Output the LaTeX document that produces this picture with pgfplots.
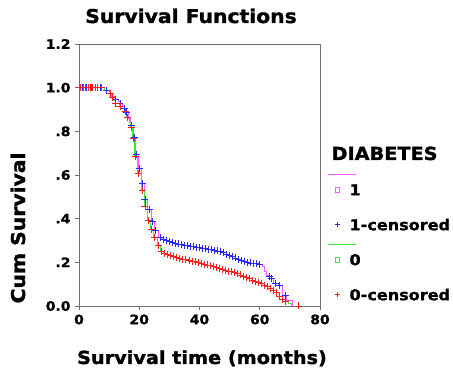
\documentclass[border=0pt]{standalone}
\usepackage{fontspec}
\setmainfont{DejaVu Sans}[FakeStretch=1.07, BoldFeatures={FakeBold=1.4}]
\usepackage{pgfplots}
\pgfplotsset{compat=1.18}

\definecolor{lmag}{RGB}{255,90,255}
\definecolor{lgreen}{RGB}{60,235,60}
\definecolor{cblue}{RGB}{40,40,255}
\definecolor{cred}{RGB}{255,30,30}
\definecolor{frame}{RGB}{110,110,110}

\begin{document}
\begin{tikzpicture}
\path[use as bounding box] (0pt,0pt) rectangle (453pt,372pt);

\begin{axis}[
  at={(79pt,66pt)}, anchor=south west,
  scale only axis, width=241pt, height=262pt,
  xmin=0, xmax=80, ymin=0, ymax=1.2,
  xtick={0,20,40,60,80},
  ytick={0,0.2,0.4,0.6,0.8,1.0,1.2},
  yticklabels={0.0,.2,.4,.6,.8,1.0,1.2},
  tick align=outside, xtick pos=bottom, ytick pos=left,
  major tick length=4pt,
  tick style={frame, line width=0.8pt},
  axis line style={frame, line width=0.8pt},
  /pgf/number format/assume math mode=true,
  ticklabel style={font=\fontsize{13}{13}\selectfont\bfseries},
  xticklabel style={yshift=-1pt},
  yticklabel style={xshift=-1pt},
  legend style={at={(1.033,0.4656)}, anchor=north west, draw=none, fill=none,
    inner sep=0pt, row sep=24pt, column sep=4pt,
    font=\fontsize{15}{15}\selectfont\bfseries,
    nodes={inner sep=0pt, text height=11pt, text depth=0pt}},
  legend cell align=left,
]

% group 1: survival step curve
\addplot[forget plot, const plot, lmag, line width=0.9pt] coordinates {
(0,1)(1,1)(2.5,1)(4,1)(5.5,1)(7,1)(8.5,0.985)(9.2,0.985)(10,0.974)(11,0.96)
(12,0.948)(13,0.938)(13.6,0.928)(14.5,0.915)(15,0.905)(15.8,0.887)(16.5,0.86)
(17.2,0.825)(17.5,0.825)(18,0.773)(18.4,0.773)(18.8,0.696)(19.1,0.696)
(19.8,0.63)(20.2,0.63)(20.6,0.562)(21,0.562)(21.6,0.489)(21.9,0.489)
(22.8,0.443)(23.3,0.443)(24,0.386)(24.4,0.386)(25,0.348)(25.5,0.348)
(26.3,0.315)(26.9,0.315)(27.5,0.305)(28,0.305)(29,0.301)(30,0.296)(31,0.29)
(32,0.286)(33,0.284)(34,0.281)(35,0.278)(36,0.276)(37,0.273)(38,0.271)
(39,0.269)(40,0.267)(41,0.265)(42,0.263)(43,0.261)(44,0.259)(45,0.255)
(46,0.252)(47,0.248)(48,0.244)(49,0.238)(50,0.233)(51,0.227)(52,0.22)
(53,0.214)(54,0.208)(55,0.202)(56,0.2)(57,0.197)(58,0.196)(59,0.194)
(60,0.192)(61,0.18)(61.7,0.16)(62.3,0.142)(63.2,0.134)(64,0.125)(64.6,0.104)
(65.1,0.104)(66.2,0.095)(66.7,0.095)(67.6,0.05)(68.4,0.05)(69,0.027)(71,0)
};

% group 0: survival step curve
\addplot[forget plot, const plot, lgreen, line width=0.9pt] coordinates {
(0,1)(0.5,1)(1.5,1)(2.2,1)(3,1)(3.7,1)(4.5,1)(5.3,1)(6,1)(7.5,1)(8.3,0.985)
(10,0.974)(10.3,0.974)(10.8,0.955)(11,0.955)(11.6,0.94)(12,0.928)(13.3,0.913)
(13.6,0.913)(15,0.893)(15.3,0.893)(15.8,0.862)(16,0.862)(16.8,0.84)
(17.1,0.817)(17.3,0.817)(17.8,0.768)(18,0.768)(18.4,0.684)(18.6,0.684)
(19.4,0.605)(19.7,0.605)(20.6,0.528)(21,0.528)(21.6,0.458)(21.9,0.458)
(22.7,0.391)(23,0.391)(23.7,0.35)(24,0.35)(24.8,0.315)(25.2,0.315)
(26,0.279)(26.3,0.279)(27,0.25)(27.4,0.25)(28.2,0.242)(28.5,0.242)
(29.5,0.236)(30.5,0.231)(31.5,0.226)(32.5,0.222)(33.5,0.218)(34.5,0.214)
(35.5,0.211)(36.5,0.208)(37.5,0.205)(38.5,0.202)(39.5,0.199)(40.5,0.196)
(41.5,0.192)(42.5,0.188)(43.5,0.184)(44.5,0.18)(45.5,0.176)(46.5,0.172)
(47.5,0.167)(48.5,0.164)(49.5,0.16)(50.5,0.156)(51.5,0.152)(52.5,0.147)
(53.5,0.142)(54.5,0.137)(55.5,0.131)(56.5,0.125)(57.5,0.119)(58.5,0.113)
(59.5,0.108)(60.5,0.102)(61.5,0.095)(62.5,0.088)(63.5,0.08)(64.5,0.073)
(65.5,0.062)(66.7,0.043)(67.5,0.03)(68.4,0.02)(69.5,0.01)(70.6,0)
};

% group 1: censored cases
\addplot[forget plot, only marks, mark=+, mark size=3.5pt, cblue, line width=0.9pt] coordinates {
(1,1)(2.5,1)(4,1)(5.5,1)(7,1)(9.2,0.985)(12,0.948)(13.6,0.928)(15,0.905)
(15.8,0.887)(17.5,0.825)(18.4,0.773)(19.1,0.696)(20.2,0.63)(21,0.562)
(21.9,0.489)(23.3,0.443)(24.4,0.386)(25.5,0.348)(26.9,0.315)(28,0.305)
(29,0.301)(30,0.296)(31,0.29)(32,0.286)(33,0.284)(34,0.281)(35,0.278)
(36,0.276)(37,0.273)(38,0.271)(39,0.269)(40,0.267)(41,0.265)(42,0.263)
(43,0.261)(44,0.259)(45,0.255)(46,0.252)(47,0.248)(48,0.244)(49,0.238)
(50,0.233)(51,0.227)(52,0.22)(53,0.214)(54,0.208)(55,0.202)(56,0.2)
(57,0.197)(58,0.196)(59,0.194)(60,0.192)(63.2,0.134)(64,0.125)(65.1,0.104)
(66.7,0.095)(68.4,0.05)
};

% group 0: censored cases
\addplot[forget plot, only marks, mark=+, mark size=3.5pt, cred, line width=0.9pt] coordinates {
(0.5,1)(1.5,1)(2.2,1)(3,1)(3.7,1)(4.5,1)(5.3,1)(6,1)(7.5,1)(10.3,0.974)
(11,0.955)(12,0.928)(13.6,0.913)(15.3,0.893)(16,0.862)(17.3,0.817)(18,0.768)
(18.6,0.684)(19.7,0.605)(21,0.528)(21.9,0.458)(23,0.391)(24,0.35)
(25.2,0.315)(26.3,0.279)(27.4,0.25)(28.5,0.242)(29.5,0.236)(30.5,0.231)
(31.5,0.226)(32.5,0.222)(33.5,0.218)(34.5,0.214)(35.5,0.211)(36.5,0.208)
(37.5,0.205)(38.5,0.202)(39.5,0.199)(40.5,0.196)(41.5,0.192)(42.5,0.188)
(43.5,0.184)(44.5,0.18)(45.5,0.176)(46.5,0.172)(47.5,0.167)(48.5,0.164)
(49.5,0.16)(50.5,0.156)(51.5,0.152)(52.5,0.147)(53.5,0.142)(54.5,0.137)
(55.5,0.131)(56.5,0.125)(57.5,0.119)(58.5,0.113)(59.5,0.108)(60.5,0.102)
(61.5,0.095)(62.5,0.088)(63.5,0.08)(64.5,0.073)(65.5,0.062)(66.7,0.043)
(67.5,0.03)(68.4,0.02)(73,0)
};

% legend: line sample above a square for each group, then the censored mark
\addlegendimage{legend image code/.code={
  \draw[overlay, lmag, line width=0.9pt] (0pt,15pt) -- (28pt,15pt);
  \draw[lmag, line width=0.7pt] (6.8pt,-2.2pt) rectangle (11.2pt,2.2pt);
  \path (0pt,0pt) (17pt,0pt);}}
\addlegendentry{1}
\addlegendimage{legend image code/.code={
  \draw[cblue, line width=0.6pt] (6.5pt,0pt) -- (11.5pt,0pt) (9pt,-2.5pt) -- (9pt,2.5pt);
  \path (0pt,0pt) (17pt,0pt);}}
\addlegendentry{1-censored}
\addlegendimage{legend image code/.code={
  \draw[overlay, lgreen, line width=0.9pt] (0pt,15pt) -- (28pt,15pt);
  \draw[lgreen, line width=0.7pt] (6.8pt,-2.2pt) rectangle (11.2pt,2.2pt);
  \path (0pt,0pt) (17pt,0pt);}}
\addlegendentry{0}
\addlegendimage{legend image code/.code={
  \draw[cred, line width=0.6pt] (6.5pt,0pt) -- (11.5pt,0pt) (9pt,-2.5pt) -- (9pt,2.5pt);
  \path (0pt,0pt) (17pt,0pt);}}
\addlegendentry{0-censored}
\end{axis}

% titles and axis labels
\node[anchor=base, font=\fontsize{19}{19}\selectfont\bfseries] at (191pt,349pt) {Survival Functions};
\node[anchor=base, rotate=90, font=\fontsize{19}{19}\selectfont\bfseries] at (25pt,144pt) {Cum Survival};
\node[anchor=base, font=\fontsize{18}{18}\selectfont\bfseries] at (202pt,8pt) {Survival time (months)};
\node[anchor=base west, font=\fontsize{18}{18}\selectfont\bfseries] at (328pt,212pt) {DIABETES};
\end{tikzpicture}
\end{document}
